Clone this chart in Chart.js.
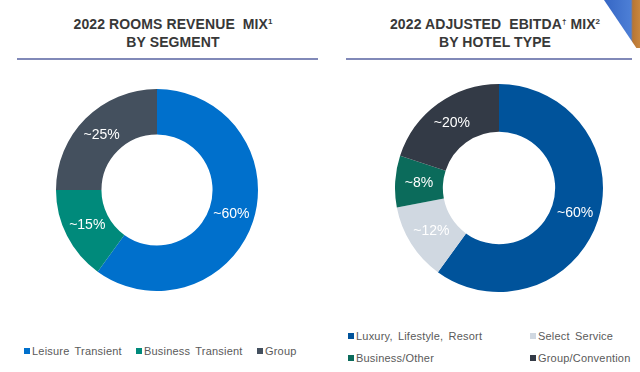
<!DOCTYPE html>
<html>
<head>
<meta charset="utf-8">
<script src="https://cdn.jsdelivr.net/npm/chart.js@4"></script>
<style>
  body { margin: 0; background: #fff; width: 640px; height: 372px; overflow: hidden; position: relative;
         font-family: "Liberation Sans", Arial, sans-serif; }
  .title { position: absolute; top: 15px; width: 300px; text-align: center; font-weight: bold;
           font-size: 14px; line-height: 18px; letter-spacing: 0.1px; color: #383838; }
  .title sup { font-size: 8px; vertical-align: 5px; line-height: 0; letter-spacing: 0; }
  .rule { position: absolute; top: 58px; height: 2px; background: #8189b8; }
  canvas { position: absolute; }
  .legend { position: absolute; font-size: 11px; color: #5a5a5a; letter-spacing: 0.2px; word-spacing: 2px; white-space: nowrap; }
  .legend span.item { position: absolute; }
  .legend i { display: inline-block; width: 6px; height: 6px; margin-right: 2px; vertical-align: 1px; }
  .corner { position: absolute; left: 604px; top: 0; width: 36px; height: 48px;
            background: linear-gradient(90deg, #3566c4 0, #4d7fd6 75%, #b87634 80%, #c8863e 100%);
            clip-path: polygon(0 0, 100% 0, 100% 100%, 90% 100%); }
</style>
</head>
<body>
<div class="title" style="left:23px">2022 ROOMS REVENUE&nbsp; MIX<sup>1</sup><br>BY SEGMENT</div>
<div class="rule" style="left:17px; width:301px"></div>
<div class="title" style="left:345px">2022 ADJUSTED&nbsp; EBITDA<sup>†</sup> MIX<sup>2</sup><br>BY HOTEL TYPE</div>
<div class="rule" style="left:346px; width:286px"></div>
<div class="corner"></div>

<canvas id="segChart" width="202" height="202" style="left:56px; top:89px"></canvas>
<canvas id="typeChart" width="208" height="208" style="left:395px; top:84px"></canvas>

<div class="legend" id="segLegend"></div>
<div class="legend" id="typeLegend"></div>

<script>
var segLabels = ['Leisure Transient', 'Business Transient', 'Group'];
var segValues = [60, 15, 25];
var segColors = ['#0070cc', '#008a7b', '#44505e'];

var typeLabels = ['Luxury, Lifestyle, Resort', 'Select Service', 'Business/Other', 'Group/Convention'];
var typeValues = [60, 12, 8, 20];
var typeColors = ['#00539b', '#d0d8e1', '#0b6b5b', '#333a46'];

// writes "~NN%" in the middle of each ring slice
var sliceLabels = {
    id: 'sliceLabels',
    afterDatasetsDraw: function(chart) {
        var ctx = chart.ctx;
        var data = chart.data.datasets[0].data;
        ctx.save();
        ctx.fillStyle = '#ffffff';
        ctx.font = '14px "Liberation Sans", Arial, sans-serif';
        ctx.textAlign = 'center';
        ctx.textBaseline = 'middle';
        chart.getDatasetMeta(0).data.forEach(function(arc, i) {
            var p = arc.tooltipPosition();
            ctx.fillText('~' + data[i] + '%', p.x, p.y);
        });
        ctx.restore();
    }
};

function buildChart(id, labels, values, colors, cutout) {
    return new Chart(document.getElementById(id), {
        type: 'doughnut',
        data: {
            labels: labels,
            datasets: [{
                data: values,
                backgroundColor: colors,
                borderWidth: 0
            }]
        },
        options: {
            responsive: false,
            animation: false,
            cutout: cutout,
            layout: { padding: 0 },
            plugins: {
                legend: { display: false },
                tooltip: { enabled: false }
            }
        },
        plugins: [sliceLabels]
    });
}

buildChart('segChart', segLabels, segValues, segColors, '55%');
buildChart('typeChart', typeLabels, typeValues, typeColors, '54%');

function buildLegend(id, labels, colors, spots) {
    var el = document.getElementById(id);
    labels.forEach(function(l, i) {
        var s = document.createElement('span');
        s.className = 'item';
        s.style.left = spots[i][0] + 'px';
        s.style.top = spots[i][1] + 'px';
        s.innerHTML = '<i style="background:' + colors[i] + '"></i>' + l;
        el.appendChild(s);
    });
}

buildLegend('segLegend', segLabels, segColors, [[24, 345], [136, 345], [257, 345]]);
buildLegend('typeLegend', typeLabels, typeColors, [[348, 330], [530, 330], [348, 352], [530, 352]]);
</script>
</body>
</html>
